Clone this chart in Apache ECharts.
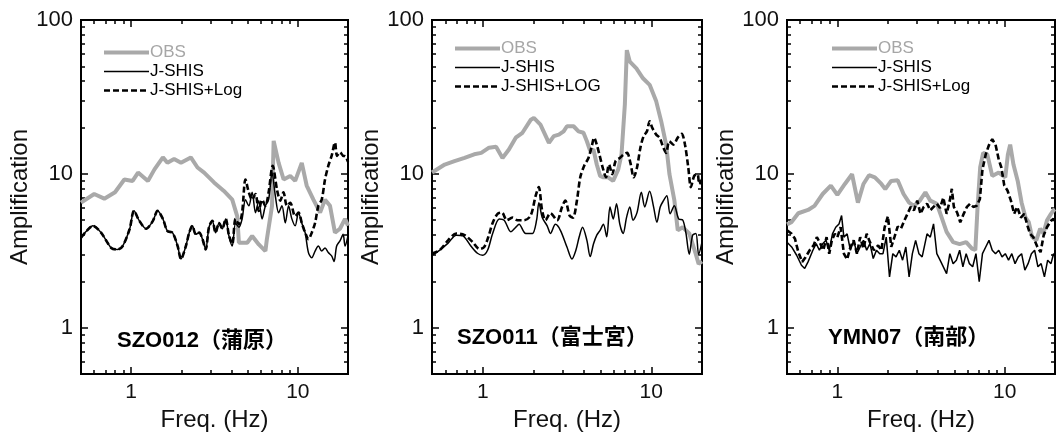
<!DOCTYPE html>
<html><head><meta charset="utf-8">
<script src="https://cdn.jsdelivr.net/npm/echarts@6/dist/echarts.min.js"></script>
<style>html,body{margin:0;padding:0;background:#fff}#c{width:1056px;height:437px}</style>
</head><body><div id="c"></div>
<script>
// ---------- ticks / labels ----------
const xRange = [0.5, 20];
const yRange = [0.5, 100];
const xTicksMajor = [1, 10];
const xTickLabels = ['1', '10'];
const xTicksMinor = [0.6, 0.7, 0.8, 0.9, 2, 3, 4, 5, 6, 7, 8, 9];
const yTicksMajor = [1, 10, 100];
const yTickLabels = ['1', '10', '100'];
const yTicksMinor = [0.6, 0.7, 0.8, 0.9, 2, 3, 4, 5, 6, 7, 8, 9, 20, 30, 40, 50, 60, 70, 80, 90];
const xTitle = 'Freq. (Hz)';
const yTitle = 'Amplification';
const stations = ['SZO012（蒲原）', 'SZO011（富士宮）', 'YMN07（南部）'];
const legendNames = [
  ['OBS', 'J-SHIS', 'J-SHIS+Log'],
  ['OBS', 'J-SHIS', 'J-SHIS+LOG'],
  ['OBS', 'J-SHIS', 'J-SHIS+Log']
];

// ---------- panel 1: SZO012 ----------
const p1ObsF = [0.5,0.60,0.69,0.80,0.91,1.02,1.10,1.26,1.38,1.55,1.65,1.81,1.99,2.28,2.50,2.74,3.14,3.60,4.04,4.33,4.43,4.97,5.32,5.83,6.39,6.52,7.0,7.16,7.67,8.22,9.0,9.64,10.56,11.3,12.4,13.6,14.56,15.6,16.7,17.9,19.2,20];
const p1ObsA = [6.5,7.4,6.9,7.6,9.2,9.0,10.2,9.0,10.7,12.8,11.8,12.5,11.8,12.8,11.0,10.2,8.8,7.75,6.8,5.3,3.57,3.57,3.95,3.48,3.15,3.76,6.2,16.4,11.8,9.2,9.7,9.0,11.8,8.4,6.8,5.6,6.8,6.2,4.15,4.4,5.1,4.6];
const p1JsF = [0.50,0.54,0.59,0.66,0.76,0.83,0.89,0.98,1.04,1.12,1.23,1.35,1.44,1.55,1.65,1.77,1.90,1.99,2.13,2.23,2.33,2.44,2.56,2.68,2.80,2.93,3.07,3.21,3.37,3.52,3.69,3.86,4.04,4.23,4.43,4.63,4.85,5.08,5.32,5.57,5.83,6.10,6.39,6.68,7.0,7.33,7.67,8.03,8.41,8.80,9.21,9.64,10.09,10.56,11.06,11.58,12.12,12.69,13.28,13.91,14.56,15.24,15.95,16.5,17.1,17.9,18.7,19.2,20];
const p1JsA = [3.85,4.25,4.6,4.15,3.3,3.23,3.4,4.4,5.75,4.95,4.4,4.95,5.75,5.1,4.25,4.15,3.4,2.8,3.4,4.15,4.6,4.05,4.15,3.76,3.23,4.5,4.95,4.15,4.8,4.4,5.1,3.95,3.4,4.8,4.5,5.1,6.8,6.2,7.6,5.6,6.7,5.1,6.2,6.8,10.2,7.2,5.6,6.2,4.8,6.2,5.1,4.6,5.6,4.8,4.15,3.08,2.85,3.15,3.4,3.15,3.3,3.08,2.93,2.7,3.4,3.67,4.05,3.4,3.95];
const p1LogF = [0.50,0.54,0.59,0.66,0.76,0.83,0.89,0.98,1.04,1.12,1.23,1.35,1.44,1.55,1.65,1.77,1.90,1.99,2.13,2.23,2.33,2.44,2.56,2.68,2.80,2.93,3.07,3.21,3.37,3.52,3.69,3.86,4.04,4.23,4.43,4.63,4.85,5.08,5.32,5.57,5.83,6.10,6.39,6.68,7.07,7.5,7.85,8.2,8.6,9.0,9.64,10.1,10.56,11.06,11.58,12.12,12.69,13.28,13.91,14.56,15.24,15.95,16.7,17.2,17.9,18.7,19.3,20];
const p1LogA = [3.85,4.25,4.6,4.15,3.3,3.23,3.4,4.4,5.75,4.95,4.4,4.95,5.75,5.1,4.25,4.15,3.4,2.8,3.4,4.15,4.6,4.05,4.15,3.76,3.23,4.5,4.95,4.15,4.8,4.4,5.1,4.0,3.5,5.1,4.7,5.6,9.2,7.6,6.8,7.4,5.75,6.8,6.2,7.6,11.3,7.9,6.7,7.6,6.2,6.5,5.3,5.6,4.8,4.15,3.76,4.15,4.8,6.2,6.8,9.2,11.3,13.1,16.0,13.1,13.8,13.1,13.0,12.0];

// ---------- panel 2: SZO011 ----------
const p2ObsF = [0.50,0.595,0.68,0.78,0.89,0.98,1.09,1.20,1.31,1.43,1.57,1.72,1.93,2.01,2.20,2.47,2.64,2.83,3.02,3.16,3.46,3.70,3.96,4.15,4.34,4.54,4.75,4.97,5.20,5.55,5.94,6.37,6.66,6.97,7.16,7.46,8.16,8.93,9.78,10.70,11.45,12.25,12.82,13.72,14.36,15.37,16.8,18.4,19.1,20];
const p2ObsA = [10.2,11.5,12.1,12.7,13.4,13.7,14.8,15.0,12.7,14.4,17.2,18.5,22.5,23.1,20.9,15.9,17.6,18.0,18.9,20.4,20.4,18.9,18.5,16.3,14.1,14.4,11.5,9.7,9.5,9.5,9.0,10.7,13.4,28.2,63.7,53.6,48.5,41.8,37.9,29.6,22.0,15.5,9.95,6.7,4.3,4.5,4.1,3.0,2.6,2.7];
const p2JsF = [0.50,0.556,0.623,0.697,0.763,0.85,0.93,1.0,1.07,1.145,1.253,1.341,1.468,1.57,1.643,1.798,1.97,2.087,2.154,2.254,2.412,2.523,2.70,2.889,3.16,3.384,3.573,3.737,3.91,4.15,4.34,4.54,4.75,4.97,5.20,5.44,5.69,5.95,6.22,6.51,6.81,7.13,7.46,7.80,8.23,8.73,9.14,9.78,10.32,10.8,11.3,11.82,12.37,12.94,13.7,14.54,15.4,16.07,16.8,17.6,18.4,19.1,20];
const p2JsA = [2.96,3.2,3.55,4.0,3.95,3.4,3.05,2.96,3.2,4.1,5.1,5.0,4.2,4.5,4.7,4.1,4.1,5.0,6.5,5.2,4.6,4.1,4.7,4.3,3.35,2.8,3.2,3.9,4.5,3.7,2.9,3.5,4.0,4.3,4.7,3.9,6.1,5.1,6.4,4.7,4.1,5.2,6.1,5.0,5.6,7.6,6.1,7.7,6.1,4.85,6.1,6.7,7.2,5.5,6.2,5.1,5.0,4.1,3.0,4.0,4.1,3.0,3.6];
const p2LogF = [0.50,0.556,0.623,0.697,0.78,0.873,0.955,1.02,1.08,1.145,1.225,1.30,1.39,1.50,1.607,1.758,1.924,2.06,2.15,2.25,2.358,2.52,2.762,2.955,3.09,3.28,3.43,3.62,3.79,4.0,4.24,4.44,4.58,4.75,4.92,5.15,5.39,5.61,5.87,6.14,6.51,6.88,7.19,7.52,7.87,8.23,8.62,9.01,9.43,9.78,10.14,10.7,11.2,11.7,12.25,12.8,13.53,14.36,15.15,15.85,16.58,17.19,17.98,18.82,19.25,20];
const p2LogA = [3.04,3.2,3.7,4.1,4.0,3.6,3.25,3.35,3.9,4.8,5.5,5.6,5.0,5.2,5.0,5.0,5.35,7.2,8.2,5.8,5.0,5.55,5.0,6.1,6.7,5.35,5.2,6.7,9.5,11.3,12.7,15.2,17.2,15.5,13.4,11.0,9.5,11.5,9.95,12.1,12.7,13.4,13.7,11.8,9.5,11.0,14.8,17.6,18.9,22.0,19.9,18.0,17.2,15.2,13.7,16.3,15.5,17.2,18.2,15.5,11.0,8.2,9.7,9.95,8.6,9.2];

// ---------- panel 3: YMN07 ----------
const p3ObsF = [0.5,0.531,0.584,0.668,0.730,0.817,0.914,1.0,1.109,1.224,1.327,1.432,1.546,1.676,1.833,1.934,2.097,2.294,2.487,2.685,2.872,3.113,3.36,3.594,3.932,4.205,4.498,4.92,5.38,5.89,6.38,6.68,6.89,7.14,7.44,7.88,8.43,9.22,10.09,10.46,10.79,11.29,11.97,12.63,13.33,13.94,14.58,15.45,16.31,17.06,17.92,18.92,19.61,20];
const p3ObsA = [4.7,4.85,5.55,5.83,6.2,7.4,8.4,7.3,8.6,9.95,6.5,8.6,9.8,9.5,8.6,7.96,9.0,9.1,7.4,6.5,6.2,6.7,7.6,6.7,6.4,5.2,4.2,3.6,3.5,3.6,3.27,3.2,6.1,11.0,13.7,13.4,9.7,10.2,9.5,13.4,15.5,11.5,9.0,6.5,5.2,4.85,3.9,3.7,4.4,4.1,5.0,5.5,5.8,5.9];
const p3JsF = [0.5,0.533,0.571,0.610,0.638,0.668,0.714,0.747,0.781,0.817,0.855,0.894,0.935,0.978,1.023,1.06,1.094,1.144,1.197,1.252,1.309,1.369,1.432,1.497,1.566,1.638,1.713,1.792,1.874,1.960,2.05,2.145,2.243,2.346,2.454,2.566,2.685,2.808,2.937,3.072,3.213,3.436,3.594,3.758,3.931,4.112,4.30,4.498,4.704,4.92,5.146,5.383,5.63,5.888,6.158,6.442,6.737,7.047,7.37,7.708,8.062,8.432,8.819,9.224,9.647,10.09,10.55,11.04,11.54,12.07,12.63,13.21,13.81,14.45,15.11,15.81,16.53,17.29,18.08,18.92,19.61,20];
const p3JsA = [3.6,3.35,2.96,2.55,2.43,2.68,3.19,3.52,3.19,3.52,3.70,3.19,4.08,4.5,4.73,5.36,3.88,4.08,3.19,3.70,3.03,3.35,3.70,3.19,3.52,2.82,3.19,3.03,3.03,3.88,2.14,3.03,2.89,3.19,2.75,3.35,2.14,3.03,3.70,3.03,2.89,4.08,3.88,4.73,3.03,2.75,2.49,2.25,3.03,2.61,2.75,3.19,2.49,3.03,2.61,2.49,3.03,1.99,3.03,3.35,3.70,3.19,3.03,3.19,2.89,3.03,2.75,3.03,2.61,2.89,3.03,2.37,2.61,3.03,3.19,2.49,2.61,2.14,2.75,2.61,3.03,2.9];
const p3LogF = [0.5,0.533,0.558,0.584,0.616,0.644,0.683,0.721,0.754,0.788,0.824,0.862,0.894,0.927,0.965,1.0,1.046,1.094,1.144,1.197,1.252,1.309,1.369,1.432,1.497,1.566,1.653,1.753,1.833,1.917,2.005,2.10,2.193,2.294,2.399,2.51,2.625,2.746,2.87,3.003,3.141,3.28,3.44,3.59,3.76,3.93,4.11,4.30,4.50,4.70,4.833,4.97,5.2,5.43,5.69,5.95,6.22,6.5,6.8,7.11,7.37,7.71,8.06,8.43,8.82,9.22,9.56,9.95,10.4,10.9,11.4,11.9,12.5,13.1,13.7,14.19,14.84,15.7,16.4,17.1,17.9,18.9,19.6,20];
const p3LogA = [4.3,4.08,3.79,3.11,2.68,2.86,3.19,3.43,3.88,3.55,3.19,3.88,3.03,3.70,4.08,3.88,4.5,3.03,2.78,3.35,3.70,3.03,3.88,3.27,4.08,3.6,3.19,3.43,3.19,4.5,5.3,3.35,3.88,4.55,4.4,4.95,5.5,6.1,5.8,6.7,5.5,6.1,6.4,5.8,6.1,6.4,6.0,7.0,5.5,6.7,8.0,6.1,5.6,4.85,5.5,6.1,6.4,6.1,6.2,6.85,10.7,13.4,15.4,16.8,15.5,12.4,11.0,8.4,7.8,6.7,5.5,6.1,5.2,5.5,4.6,4.08,3.88,3.35,3.1,3.98,4.5,4.95,5.1,4.9];

const panels = [
  { obs: [p1ObsF, p1ObsA], js: [p1JsF, p1JsA], log: [p1LogF, p1LogA], smooth: 0.3 },
  { obs: [p2ObsF, p2ObsA], js: [p2JsF, p2JsA], log: [p2LogF, p2LogA], smooth: 0.3 },
  { obs: [p3ObsF, p3ObsA], js: [p3JsF, p3JsA], log: [p3LogF, p3LogA], smooth: 0 }
];

// ---------- layout / style ----------
const FONT = "'Liberation Sans', Arial, 'Noto Sans CJK JP', sans-serif";
const gridBoxes = [{ left: 81, width: 267 }, { left: 432, width: 270 }, { left: 787, width: 268 }];
const legendPos = [{ left: 102, top: 44 }, { left: 453, top: 40 }, { left: 830, top: 40 }];
const stationPos = [{ left: 117, top: 330 }, { left: 457, top: 327 }, { left: 828, top: 327 }];
const lg = Math.log10;
const TICK = { color: '#000', width: 1.5 };

function zip(f, a) { const n = Math.min(f.length, a.length); const r = []; for (let i = 0; i < n; i++) r.push([f[i], a[i]]); return r; }
function fmt(majors, labels) {
  return v => { const i = majors.findIndex(m => Math.abs(lg(m) - v) < 1e-6); return i >= 0 ? labels[i] : ''; };
}

const xAxis = [], yAxis = [], grid = [], series = [], legend = [], graphic = [];
panels.forEach((P, p) => {
  grid.push({ left: gridBoxes[p].left, width: gridBoxes[p].width, top: 20, height: 357, show: true, borderColor: '#000', borderWidth: 2, backgroundColor: 'transparent' });
  const xi = xAxis.length, yi = yAxis.length;
  // data axes (log)
  xAxis.push({ type: 'log', logBase: 10, gridIndex: p, min: xRange[0], max: xRange[1], show: false });
  yAxis.push({ type: 'log', logBase: 10, gridIndex: p, min: yRange[0], max: yRange[1], show: false });
  // decoration axes (ticks + labels)
  const xd = (pos, vals, len, withLabel) => ({
    type: 'value', gridIndex: p, position: pos, min: lg(xRange[0]), max: lg(xRange[1]),
    axisLine: { show: false, onZero: false }, splitLine: { show: false },
    axisTick: { show: true, inside: true, length: len, customValues: vals.map(lg), lineStyle: TICK },
    axisLabel: withLabel ? { show: true, customValues: xTicksMajor.map(lg), formatter: fmt(xTicksMajor, xTickLabels), margin: 8, fontSize: 21, color: '#111', fontFamily: FONT } : { show: false },
    name: withLabel ? xTitle : '', nameLocation: 'middle', nameGap: 26,
    nameTextStyle: { fontSize: 24, color: '#111', fontFamily: FONT }
  });
  const yd = (pos, vals, len, withLabel) => ({
    type: 'value', gridIndex: p, position: pos, min: lg(yRange[0]), max: lg(yRange[1]),
    axisLine: { show: false, onZero: false }, splitLine: { show: false },
    axisTick: { show: true, inside: true, length: len, customValues: vals.map(lg), lineStyle: TICK },
    axisLabel: withLabel ? { show: true, customValues: yTicksMajor.map(lg), formatter: fmt(yTicksMajor, yTickLabels), margin: 8, fontSize: 22, color: '#111', fontFamily: FONT } : { show: false },
    name: withLabel ? yTitle : '', nameLocation: 'middle', nameGap: 46,
    nameTextStyle: { fontSize: 24, color: '#111', fontFamily: FONT }
  });
  xAxis.push(xd('bottom', xTicksMajor, 7, true), xd('bottom', xTicksMinor, 4, false), xd('top', xTicksMajor, 7, false), xd('top', xTicksMinor, 4, false));
  yAxis.push(yd('left', yTicksMajor, 7, true), yd('left', yTicksMinor, 4, false), yd('right', yTicksMajor, 7, false), yd('right', yTicksMinor, 4, false));

  const names = legendNames[p];
  series.push({ type: 'line', name: names[0], xAxisIndex: xi, yAxisIndex: yi, data: zip(P.obs[0], P.obs[1]), symbol: 'none', z: 2,
    lineStyle: { color: '#a9a9a9', width: 4 }, itemStyle: { color: '#a9a9a9' } });
  series.push({ type: 'line', name: names[2], xAxisIndex: xi, yAxisIndex: yi, data: zip(P.log[0], P.log[1]), symbol: 'none', z: 3, smooth: P.smooth,
    lineStyle: { color: '#000', width: 2.6, type: [6, 3] }, itemStyle: { color: '#000' } });
  series.push({ type: 'line', name: names[1], xAxisIndex: xi, yAxisIndex: yi, data: zip(P.js[0], P.js[1]), symbol: 'none', z: 4, smooth: P.smooth,
    lineStyle: { color: '#000', width: 1.5 }, itemStyle: { color: '#000' } });

  legend.push({
    orient: 'vertical', left: legendPos[p].left, top: legendPos[p].top, padding: 0,
    itemWidth: 45, itemHeight: 14, itemGap: 2, selectedMode: false,
    lineStyle: { width: 'inherit' },
    itemStyle: { opacity: 0, borderWidth: 0 },
    textStyle: { fontSize: 17, color: '#000', fontFamily: FONT, lineHeight: 17, padding: [0, 0, 0, -4] },
    data: [{ name: names[0], textStyle: { color: '#a6a6a6' } }, names[1], names[2]]
  });
  graphic.push({ type: 'text', left: stationPos[p].left, top: stationPos[p].top, z: 10,
    style: { text: stations[p], font: "bold 22px 'Liberation Sans', Arial, 'Noto Sans CJK JP', sans-serif", fill: '#000' } });
});

const chart = echarts.init(document.getElementById('c'));
chart.setOption({ animation: false, backgroundColor: '#fff', grid, xAxis, yAxis, series, legend, graphic });
</script>
</body></html>
